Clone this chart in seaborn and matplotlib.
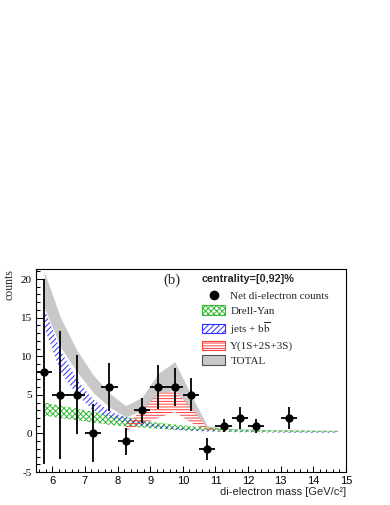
import matplotlib
matplotlib.use("Agg")
import matplotlib.pyplot as plt
from matplotlib.lines import Line2D
from matplotlib.patches import Patch
from matplotlib.ticker import MultipleLocator
import pandas as pd
import seaborn as sns

# net di-electron counts per bin (centre, counts, stat. error)
mass = [5.75, 6.25, 6.75, 7.25, 7.75, 8.25, 8.75, 9.25, 9.75, 10.25, 10.75, 11.25, 11.75, 12.25, 13.25]
counts = [8, 5, 5, 0, 6, -1, 3, 6, 6, 5, -2, 1, 2, 1, 2]
counts_err = [12, 8.3, 5.1, 3.75, 3.1, 1.75, 1.65, 2.8, 2.45, 2.15, 1.4, 0.85, 1.4, 0.9, 1.4]
half_bin = 0.25

# model bands at the bin centres
band_mass = [5.75, 6.25, 6.75, 7.25, 7.75, 8.25, 8.75, 9.25, 9.75, 10.25,
             10.75, 11.25, 11.75, 12.25, 12.75, 13.25, 13.75, 14.25, 14.75]
total_hi = [21.0, 15.0, 10.8, 7.6, 5.2, 3.6, 4.7, 7.8, 9.3, 5.0,
            1.0, 0.7, 0.6, 0.55, 0.5, 0.5, 0.45, 0.45, 0.4]
total_lo = [16.4, 11.2, 8.0, 5.3, 3.4, 2.1, 3.0, 5.2, 5.6, 3.2,
            0.7, 0.5, 0.45, 0.4, 0.4, 0.35, 0.35, 0.3, 0.3]
jets_hi = [16.3, 10.8, 7.0, 4.4, 2.9, 2.1, 1.5, 1.1, 0.8, 0.6,
           0.4, 0.3, 0.25, 0.25, 0.2, 0.2, 0.2, 0.2, 0.2]
jets_lo = [13.8, 8.0, 5.0, 3.0, 2.0, 1.4, 1.0, 0.7, 0.5, 0.35,
           0.25, 0.2, 0.15, 0.15, 0.1, 0.1, 0.1, 0.1, 0.1]
dy_hi = [4.0, 3.6, 3.2, 2.8, 2.4, 2.1, 1.7, 1.4, 1.15, 0.95,
         0.75, 0.6, 0.5, 0.45, 0.4, 0.35, 0.35, 0.3, 0.3]
dy_lo = [2.3, 2.0, 1.7, 1.4, 1.1, 0.9, 0.75, 0.6, 0.45, 0.35,
         0.3, 0.25, 0.2, 0.2, 0.2, 0.15, 0.15, 0.15, 0.15]
ups_mass = [8.25, 8.75, 9.25, 9.75, 10.25, 10.75, 11.25]
ups_hi = [1.2, 3.0, 5.2, 5.5, 3.4, 0.7, 0.35]
ups_lo = [0.3, 1.3, 2.0, 2.8, 1.4, 0.4, 0.25]

df = pd.DataFrame({'mass': mass, 'counts': counts, 'err': counts_err})

sns.set_style("ticks")
plt.rcParams['font.family'] = ['Liberation Serif', 'DejaVu Serif']
plt.rcParams['mathtext.fontset'] = 'stix'
plt.rcParams['axes.unicode_minus'] = False
plt.rcParams['hatch.linewidth'] = 0.7

fig = plt.figure(figsize=(3.9, 5.05), dpi=100)
ax = fig.add_axes([36/390, 33/505, 310/390, 203/505])

green = '#33bb33'
blue = '#3030ff'
red = '#ff4040'
grey = '#c8c8c8'

# bands
ax.fill_between(band_mass, total_lo, total_hi, color=grey, lw=0, zorder=1)
ax.fill_between(band_mass, dy_lo, dy_hi, facecolor='none', edgecolor=green,
                hatch='xxxxxx', lw=0, zorder=2)
ax.fill_between(band_mass, jets_lo, jets_hi, facecolor='none', edgecolor=blue,
                hatch='//////', lw=0, zorder=2)
ax.fill_between(ups_mass, ups_lo, ups_hi, facecolor='none', edgecolor=red,
                hatch='------', lw=0, zorder=2)

# data points
ax.errorbar(df['mass'], df['counts'], xerr=half_bin, yerr=df['err'], fmt='none',
            ecolor='black', elinewidth=1.3, zorder=4)
sns.scatterplot(data=df, x='mass', y='counts', color='black', s=36,
                edgecolor='black', linewidth=0, ax=ax, zorder=5)

ax.set_xlim(5.5, 15)
ax.set_ylim(-5, 21.3)
ax.xaxis.set_major_locator(MultipleLocator(1))
ax.xaxis.set_minor_locator(MultipleLocator(0.2))
ax.yaxis.set_major_locator(MultipleLocator(5))
ax.yaxis.set_minor_locator(MultipleLocator(1))
ax.tick_params(which='both', direction='in', top=False, right=False, width=0.75, colors='black')
ax.tick_params(axis='x', which='major', length=4.2, pad=3, labelsize=8)
ax.tick_params(axis='x', which='minor', length=2.2)
ax.tick_params(axis='y', which='major', length=5.5, pad=3, labelsize=8)
ax.tick_params(axis='y', which='minor', length=2.8)
for lbl in ax.get_xticklabels():
    lbl.set_fontfamily('Liberation Sans')
for sp in ax.spines.values():
    sp.set_linewidth(0.8)
    sp.set_color('black')

ax.set_xlabel('di-electron mass [GeV/c²]', loc='right', fontsize=8, fontfamily='Liberation Sans')
ax.xaxis.set_label_coords(1.0, -0.075)
ax.set_ylabel('counts', loc='top', fontsize=8.5)
ax.yaxis.set_label_coords(-0.065, 1.0)

# legend
handles = [
    Line2D([], [], marker='o', color='black', linestyle='none', markersize=6),
    Patch(facecolor='none', edgecolor=green, hatch='xxxxxx', lw=0.8),
    Patch(facecolor='none', edgecolor=blue, hatch='//////', lw=0.8),
    Patch(facecolor='none', edgecolor=red, hatch='------', lw=0.8),
    Patch(facecolor=grey, edgecolor='#505050', lw=0.8),
]
labels = ['Net di-electron counts', 'Drell-Yan', r'jets + b$\overline{\mathrm{b}}$',
          'Υ(1S+2S+3S)', 'TOTAL']
ax.legend(handles, labels, loc='upper left', bbox_to_anchor=(202/390, 1 - 291/505),
          bbox_transform=fig.transFigure, frameon=False, fontsize=8,
          handlelength=2.1, handleheight=0.9, handletextpad=0.45,
          labelspacing=0.36, borderpad=0, borderaxespad=0)

fig.text(202/390, 1 - 279/505, 'centrality=[0,92]%', fontfamily='Liberation Sans',
         fontweight='bold', fontsize=7.8, va='center')
fig.text(163/390, 1 - 280/505, '(b)', fontsize=10.5, va='center')

fig.savefig('out.png', dpi=100)
